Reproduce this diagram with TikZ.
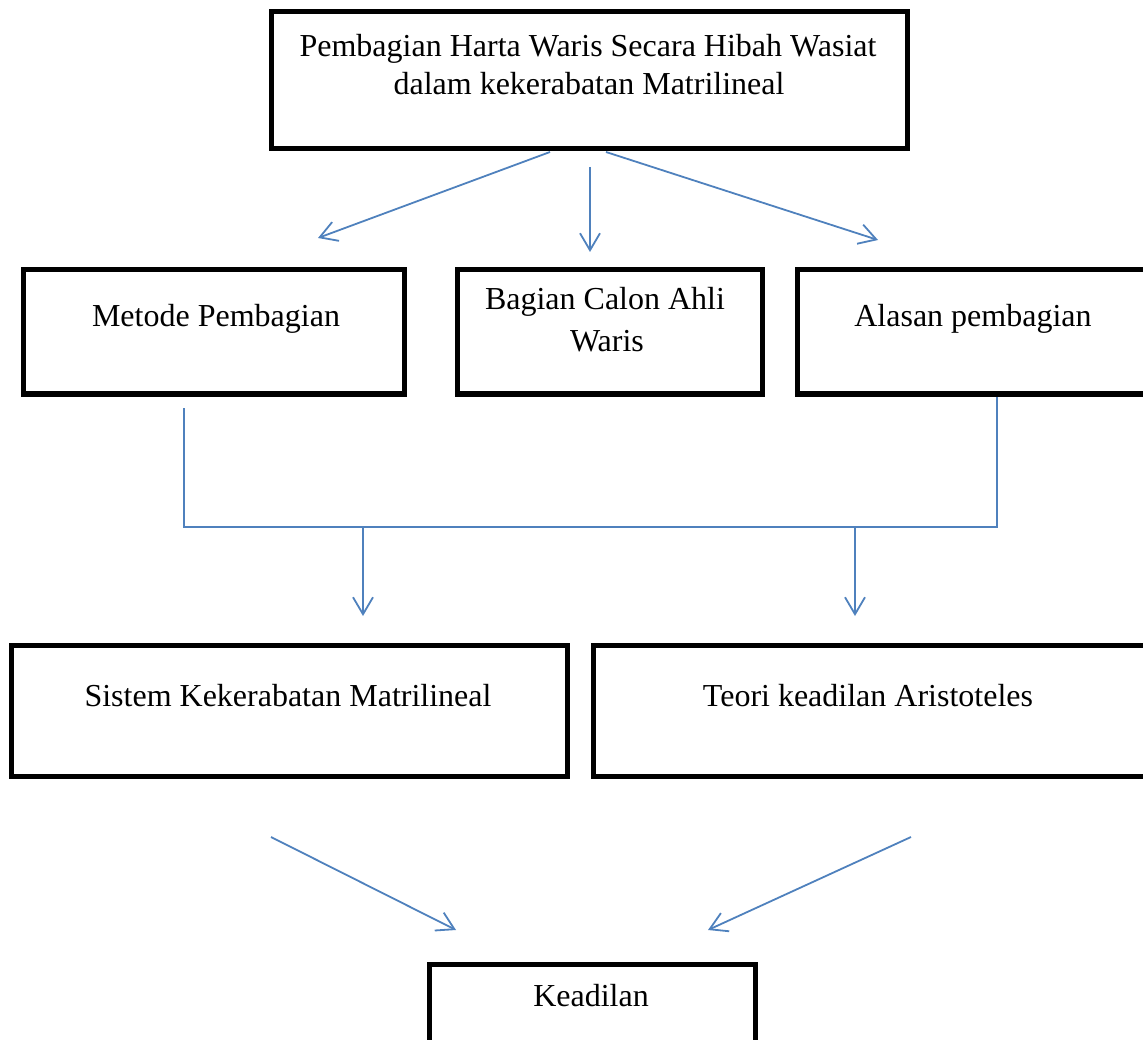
\documentclass[tikz,border=0pt]{standalone}
\usepackage{fontspec}
\setmainfont{Liberation Serif}
\usetikzlibrary{arrows.meta}
\definecolor{connblue}{HTML}{4F81BD}
\begin{document}
\begin{tikzpicture}[x=1pt,y=-1pt,
  box/.style={draw=black, line width=5pt, rectangle, inner sep=0pt, outer sep=0pt, anchor=north west},
  txt/.style={font=\fontsize{32}{37}\selectfont, anchor=base, inner sep=0pt},
  conn/.style={draw=connblue, line width=1.8pt, -{Straight Barb[length=17pt,width=20pt]}},
  plainconn/.style={draw=connblue, line width=1.8pt}]
\useasboundingbox (0,0) rectangle (1143,1040);
\clip (0,0) rectangle (1143,1040);
% boxes
\node[box, minimum width=636pt, minimum height=137pt] (top) at (271,12) {};
\node[box, minimum width=381pt, minimum height=124pt] (b1) at (23,270) {};
\node[box, minimum width=305pt, minimum height=124pt] (b2) at (457,270) {};
\node[box, minimum width=353pt, minimum height=124pt] (b3) at (797,270) {};
\node[box, minimum width=556pt, minimum height=131pt] (b4) at (11,645) {};
\node[box, minimum width=557pt, minimum height=131pt] (b5) at (593,645) {};
\node[box, minimum width=326pt, minimum height=100pt] (b6) at (429,964) {};
% texts
\node[txt] (t1a) at (588,57) {Pembagian Harta Waris Secara Hibah Wasiat};
\node[txt] (t1b) at (589,95) {dalam kekerabatan Matrilineal};
\node[txt] (t2) at (216,327) {Metode Pembagian};
\node[txt] (t3a) at (605,310) {Bagian Calon Ahli};
\node[txt] (t3b) at (607,352) {Waris};
\node[txt] (t4) at (973,327) {Alasan pembagian};
\node[txt] (t5) at (288,706) {Sistem Kekerabatan Matrilineal};
\node[txt] (t6) at (868,706) {Teori keadilan Aristoteles};
\node[txt] (t7) at (591,1006) {Keadilan};
% connector ends
\coordinate (a1s) at (550,152);
\coordinate (a1e) at (318,238);
\coordinate (a2s) at (590,167);
\coordinate (a2e) at (590,252);
\coordinate (a3s) at (606,152);
\coordinate (a3e) at (878,240);
\coordinate (l1) at (184,408);
\coordinate (l2) at (184,527);
\coordinate (l3) at (997,527);
\coordinate (l4) at (997,397);
\coordinate (d1s) at (363,527);
\coordinate (d1e) at (363,616);
\coordinate (d2s) at (855,527);
\coordinate (d2e) at (855,616);
\coordinate (e1s) at (271,837);
\coordinate (e1e) at (456,930);
\coordinate (e2s) at (911,837);
\coordinate (e2e) at (708,930);
% connectors
\draw[conn] (a1s) -- (a1e);
\draw[conn] (a2s) -- (a2e);
\draw[conn] (a3s) -- (a3e);
\draw[plainconn] (l1) -- (l2) -- (l3) -- (l4);
\draw[conn] (d1s) -- (d1e);
\draw[conn] (d2s) -- (d2e);
\draw[conn] (e1s) -- (e1e);
\draw[conn] (e2s) -- (e2e);
\end{tikzpicture}
\end{document}
